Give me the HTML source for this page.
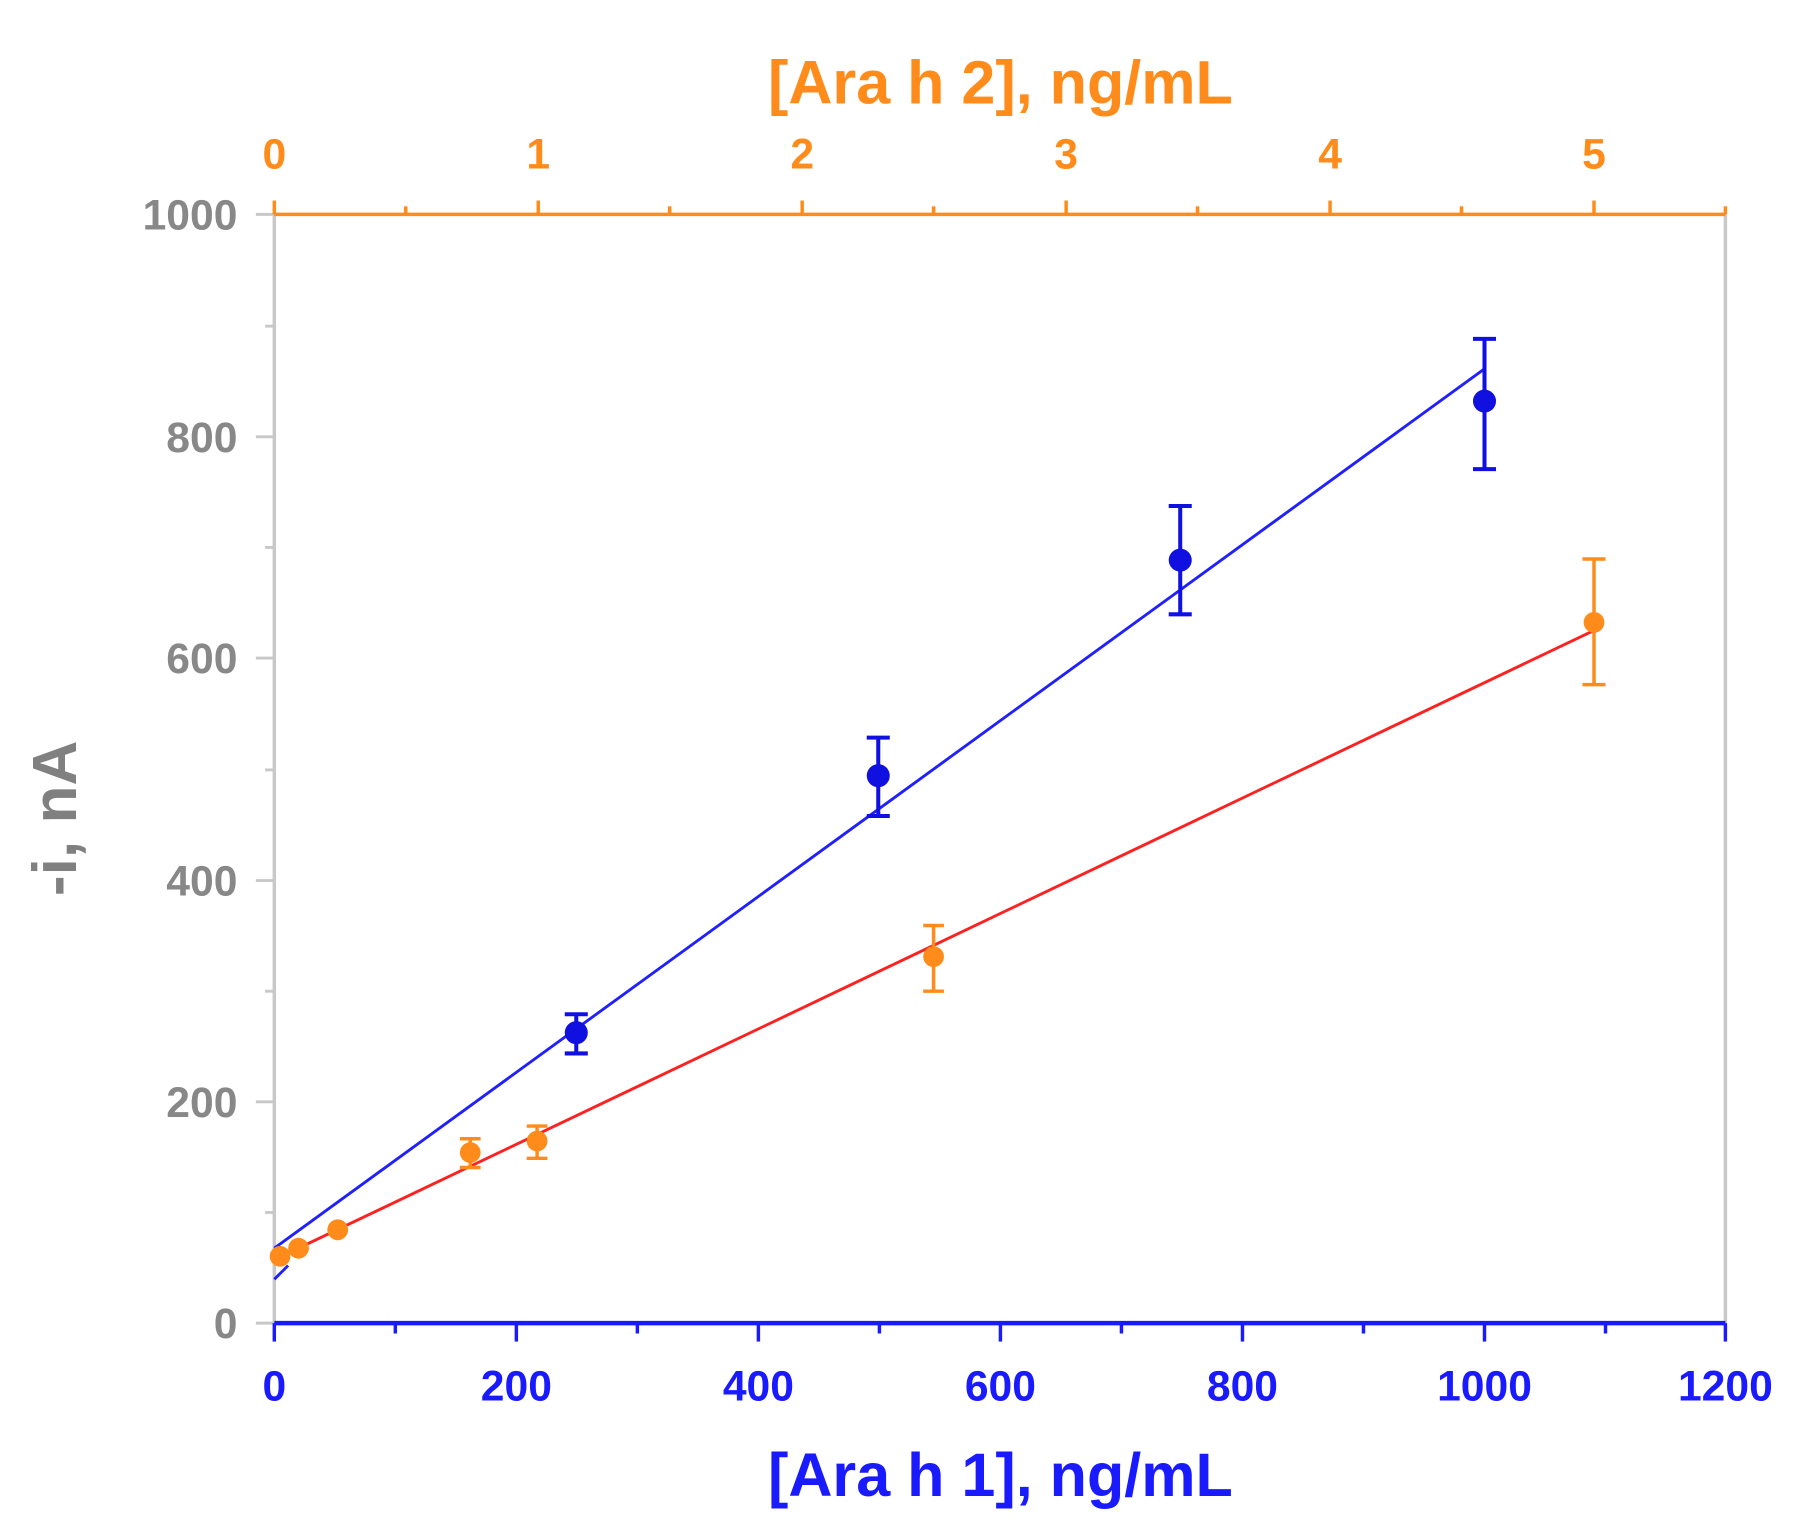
<!DOCTYPE html>
<html><head><style>html,body{margin:0;padding:0;background:#fff}svg{display:block}</style></head>
<body>
<svg width="1798" height="1539" viewBox="0 0 1560 1335.3" preserveAspectRatio="none" xmlns="http://www.w3.org/2000/svg" font-family="Liberation Sans, Arial, sans-serif" font-weight="bold">
<line x1="238" y1="186" x2="238" y2="1148" stroke="#c8c8c8" stroke-width="3"/>
<line x1="1497" y1="186" x2="1497" y2="1148" stroke="#c8c8c8" stroke-width="3"/>
<g stroke="#c8c8c8" stroke-width="2.5">
<line x1="222" y1="1148" x2="238" y2="1148"/><line x1="230" y1="1052" x2="238" y2="1052"/>
<line x1="222" y1="956" x2="238" y2="956"/><line x1="230" y1="860" x2="238" y2="860"/>
<line x1="222" y1="764" x2="238" y2="764"/><line x1="230" y1="668" x2="238" y2="668"/>
<line x1="222" y1="571" x2="238" y2="571"/><line x1="230" y1="475" x2="238" y2="475"/>
<line x1="222" y1="379" x2="238" y2="379"/><line x1="230" y1="283" x2="238" y2="283"/>
<line x1="222" y1="186" x2="238" y2="186"/>
</g>
<g fill="#888" font-size="37" text-anchor="end">
<text x="206" y="1161">0</text><text x="206" y="969">200</text><text x="206" y="777">400</text>
<text x="206" y="584">600</text><text x="206" y="392">800</text><text x="206" y="199">1000</text>
</g>
<text transform="translate(66,710) rotate(-90)" fill="#808080" font-size="54" text-anchor="middle">-i, nA</text>
<line x1="238" y1="186" x2="1497" y2="186" stroke="#ff8c1a" stroke-width="3"/>
<g stroke="#ff8c1a" stroke-width="3">
<line x1="238" y1="186" x2="238" y2="174"/><line x1="352" y1="186" x2="352" y2="179"/>
<line x1="467" y1="186" x2="467" y2="174"/><line x1="581" y1="186" x2="581" y2="179"/>
<line x1="696" y1="186" x2="696" y2="174"/><line x1="810" y1="186" x2="810" y2="179"/>
<line x1="925" y1="186" x2="925" y2="174"/><line x1="1039" y1="186" x2="1039" y2="179"/>
<line x1="1154" y1="186" x2="1154" y2="174"/><line x1="1268" y1="186" x2="1268" y2="179"/>
<line x1="1383" y1="186" x2="1383" y2="174"/><line x1="1497" y1="186" x2="1497" y2="179"/>
</g>
<g fill="#ff8c1a" font-size="37" text-anchor="middle">
<text x="238" y="146">0</text><text x="467" y="146">1</text><text x="696" y="146">2</text>
<text x="925" y="146">3</text><text x="1154" y="146">4</text><text x="1383" y="146">5</text>
</g>
<text x="868" y="90" fill="#ff8c1a" font-size="53" text-anchor="middle">[Ara h 2], ng/mL</text>
<line x1="238" y1="1148" x2="1497" y2="1148" stroke="#1a1aff" stroke-width="4"/>
<g stroke="#1a1aff" stroke-width="3">
<line x1="238" y1="1148" x2="238" y2="1164"/><line x1="343" y1="1148" x2="343" y2="1157"/>
<line x1="448" y1="1148" x2="448" y2="1164"/><line x1="553" y1="1148" x2="553" y2="1157"/>
<line x1="658" y1="1148" x2="658" y2="1164"/><line x1="763" y1="1148" x2="763" y2="1157"/>
<line x1="868" y1="1148" x2="868" y2="1164"/><line x1="973" y1="1148" x2="973" y2="1157"/>
<line x1="1078" y1="1148" x2="1078" y2="1164"/><line x1="1183" y1="1148" x2="1183" y2="1157"/>
<line x1="1288" y1="1148" x2="1288" y2="1164"/><line x1="1393" y1="1148" x2="1393" y2="1157"/>
<line x1="1497" y1="1148" x2="1497" y2="1164"/>
</g>
<g fill="#1a1aff" font-size="37" text-anchor="middle">
<text x="238" y="1215">0</text><text x="448" y="1215">200</text><text x="658" y="1215">400</text>
<text x="868" y="1215">600</text><text x="1078" y="1215">800</text><text x="1288" y="1215">1000</text><text x="1497" y="1215">1200</text>
</g>
<text x="868" y="1298" fill="#1a1aff" font-size="53" text-anchor="middle">[Ara h 1], ng/mL</text>
<line x1="238" y1="1083" x2="1288" y2="320" stroke="#2020ff" stroke-width="2.5"/>
<line x1="238" y1="1110" x2="250" y2="1098" stroke="#2020ff" stroke-width="2.5"/>
<line x1="238" y1="1093" x2="1383" y2="547" stroke="#ff2020" stroke-width="2.5"/>
<g stroke="#1010e0" stroke-width="3.5" fill="#1010e0">
<line x1="500" y1="880" x2="500" y2="914"/><line x1="490" y1="880" x2="510" y2="880"/><line x1="490" y1="914" x2="510" y2="914"/>
<circle cx="500" cy="896" r="10" stroke="none"/>
<line x1="762" y1="640" x2="762" y2="708"/><line x1="752" y1="640" x2="772" y2="640"/><line x1="752" y1="708" x2="772" y2="708"/>
<circle cx="762" cy="673" r="10" stroke="none"/>
<line x1="1024" y1="439" x2="1024" y2="533"/><line x1="1014" y1="439" x2="1034" y2="439"/><line x1="1014" y1="533" x2="1034" y2="533"/>
<circle cx="1024" cy="486" r="10" stroke="none"/>
<line x1="1288" y1="294" x2="1288" y2="407"/><line x1="1278" y1="294" x2="1298" y2="294"/><line x1="1278" y1="407" x2="1298" y2="407"/>
<circle cx="1288" cy="348" r="10" stroke="none"/>
</g>
<g stroke="#ff8c1a" stroke-width="3" fill="#ff8c1a">
<circle cx="243" cy="1090" r="9" stroke="none"/>
<circle cx="259" cy="1083" r="9" stroke="none"/>
<line x1="259" y1="1074" x2="259" y2="1092"/>
<circle cx="293" cy="1067" r="9" stroke="none"/>
<line x1="293" y1="1058" x2="293" y2="1076"/>
<line x1="408" y1="988" x2="408" y2="1013"/><line x1="399" y1="988" x2="417" y2="988"/><line x1="399" y1="1013" x2="417" y2="1013"/>
<circle cx="408" cy="1000" r="9" stroke="none"/>
<line x1="466" y1="977" x2="466" y2="1005"/><line x1="457" y1="977" x2="475" y2="977"/><line x1="457" y1="1005" x2="475" y2="1005"/>
<circle cx="466" cy="990" r="9" stroke="none"/>
<line x1="810" y1="803" x2="810" y2="860"/><line x1="801" y1="803" x2="819" y2="803"/><line x1="801" y1="860" x2="819" y2="860"/>
<circle cx="810" cy="830" r="9" stroke="none"/>
<line x1="1383" y1="485" x2="1383" y2="594"/><line x1="1373" y1="485" x2="1393" y2="485"/><line x1="1373" y1="594" x2="1393" y2="594"/>
<circle cx="1383" cy="540" r="9" stroke="none"/>
</g>
</svg>
</body></html>
